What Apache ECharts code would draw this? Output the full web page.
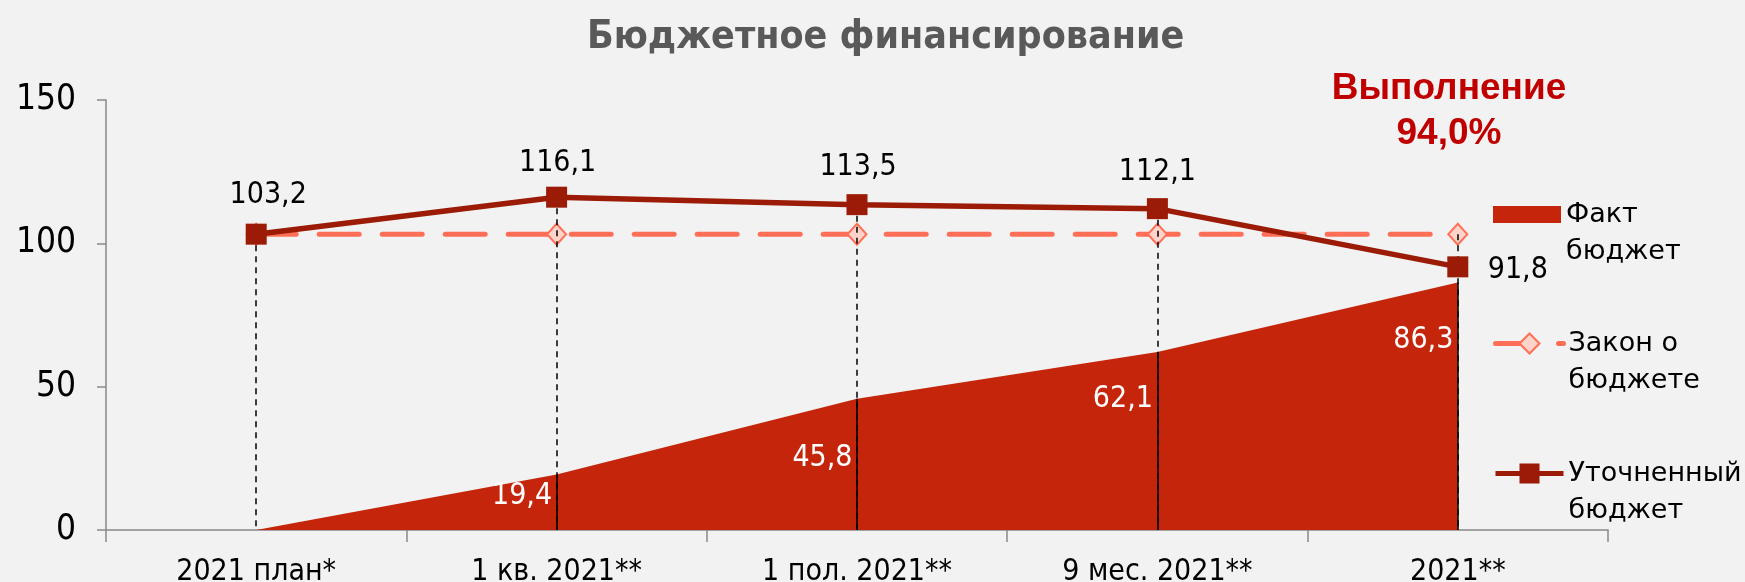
<!DOCTYPE html>
<html>
<head>
<meta charset="utf-8">
<script src="https://cdn.jsdelivr.net/npm/echarts@6/dist/echarts.min.js"></script>
<style>
html,body{margin:0;padding:0;background:#F2F2F2;}
#chart{width:1745px;height:582px;}
</style>
</head>
<body>
<div id="chart"></div>
<script>
// ---- data ----
const categories = ['2021 план*', '1 кв. 2021**', '1 пол. 2021**', '9 мес. 2021**', '2021**'];
const faktBudget = [0, 19.4, 45.8, 62.1, 86.3];
const zakonBudget = [103.2, 103.2, 103.2, 103.2, 103.2];
const utochBudget = [103.2, 116.1, 113.5, 112.1, 91.8];
const yTicks = [0, 50, 100, 150];
const seriesNames = ['Факт бюджет', 'Закон о бюджете', 'Уточненный бюджет'];
const legendLabels = ['Факт\nбюджет', 'Закон о\nбюджете', 'Уточненный\nбюджет'];
const chartTitle = 'Бюджетное финансирование';
const executionText = 'Выполнение\n94,0%';

// ---- layout (not data) ----
const faktLabelDy = [0, 22, 59, 47, 58];
const utochLabelOffset = [[12, -39], [1, -34], [1, -37], [0, -36], [60, 3]];

const fmt = v => String(v).replace('.', ',');
const NUM_FONT = 'DejaVu Sans Condensed';
const TXT_FONT = 'DejaVu Sans';
const C_FAKT = '#C5250A';
const C_ZAKON = '#FF6E56';
const C_UTOCH = '#9B1B06';

const chart = echarts.init(document.getElementById('chart'));

const faktData = faktBudget.map((v, i) => ({
  value: v,
  label: {
    show: i > 0,
    position: 'left',
    distance: 4,
    offset: [0, faktLabelDy[i]]
  }
}));
const utochData = utochBudget.map((v, i) => ({
  value: v,
  label: { offset: utochLabelOffset[i] }
}));

const dashedDrop = categories.map((c, i) => [
  { coord: [c, Math.max(utochBudget[i], zakonBudget[i])] },
  { coord: [c, 0] }
]);
const solidDrop = categories.map((c, i) => [
  { coord: [c, faktBudget[i]] },
  { coord: [c, 0] }
]).filter((d, i) => faktBudget[i] > 0);

const legendBase = {
  orient: 'vertical',
  left: 1488,
  itemWidth: 68,
  itemGap: 19,
  selectedMode: false,
  textStyle: { fontFamily: TXT_FONT, fontSize: 27, color: '#000', lineHeight: 37 },
  formatter: name => '\n' + legendLabels[seriesNames.indexOf(name)]
};

const option = {
  backgroundColor: '#F2F2F2',
  animation: false,
  title: {
    text: chartTitle,
    left: 582,
    top: 13,
    textStyle: { fontFamily: 'DejaVu Sans Condensed', fontWeight: 'bold', fontSize: 39, color: '#595959' }
  },
  graphic: [{
    type: 'text',
    x: 1449, y: 111,
    style: {
      text: executionText,
      fill: '#C00000',
      font: 'bold 37px "Liberation Sans"',
      align: 'center',
      verticalAlign: 'middle',
      lineHeight: 45
    }
  }],
  grid: { left: 106, right: 137, top: 100, bottom: 52, containLabel: false, outerBoundsMode: 'none' },
  legend: [
    Object.assign({}, legendBase, {
      top: 154,
      itemHeight: 17,
      data: [{ name: seriesNames[0], icon: 'rect', itemStyle: { color: C_FAKT } }]
    }),
    Object.assign({}, legendBase, {
      top: 283,
      itemHeight: 25,
      data: [
        { name: seriesNames[1], lineStyle: { width: 5, color: C_ZAKON } },
        { name: seriesNames[2], lineStyle: { width: 5, color: C_UTOCH } }
      ]
    })
  ],
  xAxis: {
    type: 'category',
    data: categories,
    boundaryGap: true,
    axisLine: { lineStyle: { color: '#898989', width: 1.5 } },
    axisTick: { show: true, length: 12, lineStyle: { color: '#898989', width: 1.5 } },
    axisLabel: { fontFamily: NUM_FONT, fontSize: 30, color: '#000', margin: 27 }
  },
  yAxis: {
    type: 'value',
    min: yTicks[0],
    max: yTicks[yTicks.length - 1],
    interval: yTicks[1] - yTicks[0],
    splitLine: { show: false },
    axisLine: { show: true, lineStyle: { color: '#898989', width: 1.5 } },
    axisTick: { show: true, length: 9, lineStyle: { color: '#898989', width: 1.5 } },
    axisLabel: { fontFamily: NUM_FONT, fontSize: 35, color: '#000', margin: 30 }
  },
  series: [
    {
      name: '__dashed',
      type: 'line',
      data: [],
      z: 1,
      silent: true,
      markLine: {
        silent: true,
        symbol: ['none', 'none'],
        label: { show: false },
        lineStyle: { color: '#000', width: 1.5, type: [6, 5] },
        data: dashedDrop
      }
    },
    {
      name: seriesNames[0],
      type: 'line',
      data: faktData,
      z: 2,
      symbol: 'circle',
      symbolSize: 1,
      itemStyle: { color: 'rgba(0,0,0,0)' },
      lineStyle: { width: 0, color: C_FAKT },
      areaStyle: { color: C_FAKT, opacity: 1 },
      label: {
        show: true,
        color: '#FFFFFF',
        fontFamily: NUM_FONT,
        fontSize: 30,
        formatter: p => fmt(p.value)
      }
    },
    {
      name: '__solid',
      type: 'line',
      data: [],
      z: 3,
      silent: true,
      markLine: {
        silent: true,
        symbol: ['none', 'none'],
        label: { show: false },
        lineStyle: { color: '#000', width: 1.5, type: 'solid' },
        data: solidDrop
      }
    },
    {
      name: seriesNames[1],
      type: 'line',
      data: zakonBudget,
      z: 4,
      symbol: 'diamond',
      symbolSize: [19, 21],
      showAllSymbol: true,
      itemStyle: { color: '#FDD3CA', borderColor: C_ZAKON, borderWidth: 2 },
      lineStyle: { color: C_ZAKON, width: 5, type: [40, 23], cap: 'round' }
    },
    {
      name: seriesNames[2],
      type: 'line',
      data: utochData,
      z: 5,
      symbol: 'rect',
      symbolSize: 21,
      itemStyle: { color: C_UTOCH },
      lineStyle: { color: C_UTOCH, width: 5.5 },
      label: {
        show: true,
        position: 'inside',
        color: '#000',
        fontFamily: NUM_FONT,
        fontSize: 30,
        formatter: p => fmt(p.value)
      }
    }
  ]
};
chart.setOption(option);
</script>
</body>
</html>
